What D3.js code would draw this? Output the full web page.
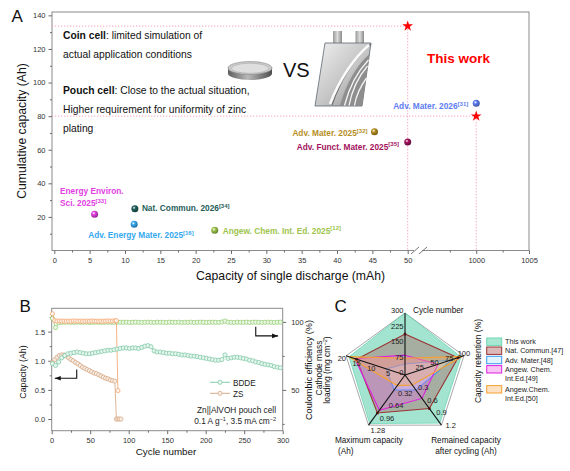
<!DOCTYPE html>
<html>
<head>
<meta charset="utf-8">
<script src="https://cdn.jsdelivr.net/npm/d3@7"></script>
<style>
  body { margin: 0; background: #fff; }
  svg { display: block; font-family: "Liberation Sans", Arial, sans-serif; }
</style>
</head>
<body>
<script>
// ---------------- data: panel A ----------------
const refNames = ['Energy Environ.|Sci. 2025', 'Nat. Commun. 2026', 'Adv. Energy Mater. 2025',
  'Angew. Chem. Int. Ed. 2025', 'Adv. Mater. 2025', 'Adv. Funct. Mater. 2025', 'Adv. Mater. 2026'];
const refTags = ['33', '34', '16', '12', '32', '35', '31'];
const refSingle = [5.7, 11.4, 11.3, 22.7, 45.3, 50, 1000];        // mAh
const refCumulative = [21.6, 24.8, 15.6, 12.0, 70.7, 64.6, 87.6];  // Ah
const workSingle = [50, 1000];
const workCumulative = [133.6, 80];
const xTicksA = [0, 5, 10, 15, 20, 25, 30, 35, 40, 45, 50, 1000, 1005];
const xMinorA = [2.5, 7.5, 12.5, 17.5, 22.5, 27.5, 32.5, 37.5, 42.5, 47.5, 997.5, 1002.5];
const yTicksA = [20, 40, 60, 80, 100, 120, 140];
const yMinorA = [10, 30, 50, 70, 90, 110, 130];

// ---------------- data: panel B ----------------
const bddeCycles = d3.range(1, 300, 4);
const bddeCapacity = [0.95, 0.92, 0.98, 1.05, 1.09, 1.12, 1.13, 1.14, 1.15, 1.14,
  1.13, 1.12, 1.12, 1.13, 1.14, 1.15, 1.16, 1.17, 1.18, 1.18,
  1.19, 1.20, 1.21, 1.22, 1.22, 1.21, 1.22, 1.22, 1.21, 1.23,
  1.25, 1.26, 1.24, 1.17, 1.15, 1.15, 1.14, 1.13, 1.13, 1.12,
  1.12, 1.11, 1.10, 1.10, 1.09, 1.08, 1.08, 1.07, 1.06, 1.05,
  1.04, 1.03, 1.02, 1.01, 1.01, 1.02, 1.10, 1.04, 1.05, 1.06,
  1.06, 1.05, 1.04, 1.03, 1.01, 1.00, 0.98, 0.97, 0.95, 0.94,
  0.93, 0.92, 0.90, 0.89, 0.88];
const bddeCE = [102.5, 95.8, 99.3, 99.6, 99.7, 99.8, 99.7, 99.6, 99.8, 99.7,
  99.7, 99.8, 99.6, 99.7, 99.8, 99.7, 99.6, 99.7, 99.8, 99.7,
  99.6, 99.8, 99.7, 99.7, 99.8, 99.6, 99.7, 99.8, 99.7, 99.6,
  99.7, 99.8, 99.7, 99.6, 99.8, 99.7, 99.7, 99.6, 99.8, 99.7,
  99.7, 99.8, 99.6, 99.7, 99.7, 99.8, 99.6, 99.7, 99.8, 99.7,
  99.6, 99.7, 99.8, 99.7, 99.6, 99.9, 100.6, 99.8, 99.7, 99.6,
  99.8, 99.7, 99.7, 99.8, 99.6, 99.7, 99.8, 99.7, 99.6, 99.7,
  99.8, 99.7, 99.6, 99.7, 99.8];
const zsCycles = [1, 4, 7, 10, 13, 16, 19, 22, 25, 28, 31, 34, 37, 40, 43, 46, 49, 52, 55, 58,
  61, 64, 67, 70, 73, 76, 79, 82, 84, 86, 88, 90];
const zsCapacity = [0.97, 1.02, 1.06, 1.09, 1.10, 1.10, 1.08, 1.05, 1.02, 1.00,
  0.97, 0.95, 0.92, 0.89, 0.87, 0.85, 0.83, 0.81, 0.79, 0.78,
  0.76, 0.74, 0.72, 0.70, 0.69, 0.67, 0.66, 0.65, 0.0, 0.0, 0.0, 0.0];
const zsCECycles = [1, 4, 7, 10, 13, 16, 19, 22, 25, 28, 31, 34, 37, 40, 43, 46, 49, 52, 55, 58,
  61, 64, 67, 70, 73, 76, 79, 82, 84, 86];
const zsCE = [106.0, 100.9, 100.6, 100.7, 100.5, 100.6, 100.4, 100.6, 100.5, 100.7,
  100.6, 100.5, 100.6, 100.4, 100.5, 100.6, 100.5, 100.7, 100.6, 100.5,
  100.4, 100.6, 100.5, 100.6, 100.7, 100.5, 100.6, 100.8, 100.9, 49.5];
const xTicksB = [0, 50, 100, 150, 200, 250, 300];
const yTicksB = [0, 0.5, 1.0, 1.5];
const y2TicksB = [50, 100];

// ---------------- data: panel C ----------------
const radarMax = [300, 100, 1.2, 1.28, 20];
const radarTicks = [[0, 75, 150, 225, 300], [25, 50, 75, 100], [0.3, 0.6, 0.9, 1.2],
  [0.32, 0.64, 0.96, 1.28], [5, 10, 15, 20]];
const radarNames = ['This work', 'Nat. Commun.[47]', 'Adv. Mater.[48]', 'Angew. Chem.|Int.Ed.[49]', 'Angew.Chem.|Int.Ed.[50]'];
const thisWorkRadar = [300, 95, 1.15, 1.24, 19];
const natCommunRadar = [198, 90, 0.80, 0.97, 16.4];
const advMaterRadar = [53, 79, 0.36, 0.38, 6.4];
const angew49Radar = [96, 56, 0.56, 0.90, 17];
const angew50Radar = [81, 97, 0.24, 0.27, 19.2];

// ---------------- styles ----------------
const refColors = ['#e23ee2', '#1f5e5a', '#35a9ef', '#9dc44c', '#b68f1f', '#a3115d', '#5d7df2'];
// label offset from its point: dx, dy, anchor
const refLabelPos = [[-34.6, -20.2, 'start'], [7, 2.5, 'start'], [-46, 13.7, 'start'], [8, 3.4, 'start'],
  [-7, 4.6, 'end'], [-8.7, 7.7, 'end'], [-8, 5.6, 'end']];
const radarStroke = ['#6fd6b6', '#9a3232', '#3a98ee', '#e020e0', '#f5a030'];
const radarFill = ['#45c9a0', '#b04a4a', '#c6ecfb', '#f060f0', '#f8b060'];
const radarOpacity = [0.5, 0.35, 0.55, 0.3, 0.35];
const legendFill = ['#a8e8d2', '#dcb8b8', '#e2f5fd', '#f8c4f4', '#fde2c4'];

const svg = d3.select('body').append('svg').attr('width', 570).attr('height', 471);
const defs = svg.append('defs');

function styleAxis(g, size) {
  g.attr('font-family', null).attr('font-size', size || 7.5);
  g.selectAll('.tick line').attr('stroke', '#6a6a6a');
  g.selectAll('.tick text').attr('fill', '#333');
  g.select('.domain').remove();
}

function panelLetter(txt, x, y) {
  svg.append('text').attr('x', x).attr('y', y).attr('font-size', 17).attr('fill', '#111').text(txt);
}

// ================= PANEL A =================
const gA = svg.append('g');
const xA = d3.scaleLinear().domain([0, 50, 996, 1005]).range([54.3, 407.7, 434, 529]);
const yA = d3.scaleLinear().domain([0, 142]).range([250.5, 12]);

gA.append('rect').attr('x', 52).attr('y', 12).attr('width', 477).attr('height', 238.5)
  .attr('fill', 'none').attr('stroke', '#8a8a8a').attr('stroke-width', 1);

const axA = gA.append('g').attr('transform', 'translate(0,250.5)')
  .call(d3.axisBottom(xA).tickValues(xTicksA).tickSize(3.5).tickPadding(4).tickFormat(d3.format('d')));
styleAxis(axA);
styleAxis(gA.append('g').attr('transform', 'translate(0,250.5)')
  .call(d3.axisBottom(xA).tickValues(xMinorA).tickSize(2).tickFormat('')));
styleAxis(gA.append('g').attr('transform', 'translate(52,0)')
  .call(d3.axisLeft(yA).tickValues(yTicksA).tickSize(3.5)));
styleAxis(gA.append('g').attr('transform', 'translate(52,0)')
  .call(d3.axisLeft(yA).tickValues(yMinorA).tickSize(2).tickFormat('')));

// axis break
gA.append('rect').attr('x', 414).attr('y', 248).attr('width', 8).attr('height', 5).attr('fill', '#fff');
[411, 419].forEach(bx => {
  gA.append('line').attr('x1', bx).attr('y1', 254).attr('x2', bx + 8).attr('y2', 247)
    .attr('stroke', '#6a6a6a').attr('stroke-width', 0.9);
});

// guide lines to "this work"
workSingle.forEach((s, i) => {
  const px = xA(s), py = yA(workCumulative[i]);
  gA.append('path').attr('d', `M52,${py}H${px}M${px},${py}V250.5`)
    .attr('fill', 'none').attr('stroke', '#f6a3c2').attr('stroke-width', 1)
    .attr('stroke-dasharray', '1.3,1.7');
});

// spheres
refColors.forEach((c, i) => {
  const gr = defs.append('radialGradient').attr('id', 'sph' + i)
    .attr('cx', '38%').attr('cy', '35%').attr('r', '65%');
  gr.append('stop').attr('offset', '0%').attr('stop-color', '#fff');
  gr.append('stop').attr('offset', '35%').attr('stop-color', c);
  gr.append('stop').attr('offset', '100%').attr('stop-color', d3.color(c).darker(1.2));
});

gA.selectAll('circle.ref').data(refSingle).enter().append('circle')
  .attr('class', 'ref')
  .attr('cx', d => xA(d)).attr('cy', (d, i) => yA(refCumulative[i]))
  .attr('r', 3.5).attr('fill', (d, i) => `url(#sph${i})`);

gA.selectAll('path.star').data(workSingle).enter().append('path')
  .attr('class', 'star')
  .attr('transform', (d, i) => `translate(${xA(d)},${yA(workCumulative[i])})`)
  .attr('d', d3.symbol(d3.symbolStar).size(36)).attr('fill', '#ff0000');

refNames.forEach((name, i) => {
  const [dx, dy, anchor] = refLabelPos[i];
  const lx = xA(refSingle[i]) + dx, ly = yA(refCumulative[i]) + dy;
  const lines = name.split('|');
  const t = gA.append('text').attr('x', lx).attr('y', ly).attr('text-anchor', anchor)
    .attr('font-size', 8.3).attr('font-weight', 'bold').attr('fill', refColors[i]);
  lines.forEach((ln, j) => t.append('tspan').attr('x', lx).attr('dy', j ? 12 : 0).text(ln));
  t.append('tspan').attr('dy', -3.3).attr('font-size', 6).text('[' + refTags[i] + ']');
});

gA.append('text').attr('x', 427).attr('y', 63).attr('font-size', 13.5).attr('font-weight', 'bold')
  .attr('fill', '#ff0000').text('This work');

// description text
const descA = [
  [['Coin cell', true], [': limited simulation of', false]],
  [['actual application conditions', false]],
  [['Pouch cell', true], [': Close to the actual situation,', false]],
  [['Higher requirement for uniformity of zinc', false]],
  [['plating', false]]
];
const descY = [39, 58, 94, 113, 132];
descA.forEach((parts, i) => {
  const t = gA.append('text').attr('x', 63).attr('y', descY[i]).attr('font-size', 10.3).attr('fill', '#111');
  parts.forEach(p => t.append('tspan').attr('font-weight', p[1] ? 'bold' : 'normal').text(p[0]));
});

// coin cell drawing
const coinGrad = defs.append('linearGradient').attr('id', 'coinRim').attr('x1', 0).attr('x2', 1);
coinGrad.append('stop').attr('offset', '0%').attr('stop-color', '#5e5e5e');
coinGrad.append('stop').attr('offset', '45%').attr('stop-color', '#b8b8b8');
coinGrad.append('stop').attr('offset', '100%').attr('stop-color', '#4e4e4e');
gA.append('ellipse').attr('cx', 250).attr('cy', 73.5).attr('rx', 22).attr('ry', 6.5).attr('fill', 'url(#coinRim)');
gA.append('rect').attr('x', 228).attr('y', 68).attr('width', 44).attr('height', 5.5).attr('fill', 'url(#coinRim)');
gA.append('ellipse').attr('cx', 250).attr('cy', 68).attr('rx', 22).attr('ry', 6.5)
  .attr('fill', '#c9c9c9').attr('stroke', '#8a8a8a').attr('stroke-width', 0.6);
gA.append('ellipse').attr('cx', 250).attr('cy', 68.3).attr('rx', 18.5).attr('ry', 5)
  .attr('fill', '#dedede').attr('stroke', '#a8a8a8').attr('stroke-width', 0.5);

gA.append('text').attr('x', 283).attr('y', 77).attr('font-size', 20).attr('fill', '#111').text('VS');

// pouch cell drawing
const pg = defs.append('linearGradient').attr('id', 'pouchGrad').attr('x1', 0).attr('y1', 0).attr('x2', 1).attr('y2', 1);
pg.append('stop').attr('offset', '0%').attr('stop-color', '#f0f0f0');
pg.append('stop').attr('offset', '55%').attr('stop-color', '#c4c4c4');
pg.append('stop').attr('offset', '100%').attr('stop-color', '#8a8a8a');
const tg = defs.append('linearGradient').attr('id', 'tabGrad').attr('x1', 0).attr('x2', 1);
tg.append('stop').attr('offset', '0%').attr('stop-color', '#9a9a9a');
tg.append('stop').attr('offset', '50%').attr('stop-color', '#dcdcdc');
tg.append('stop').attr('offset', '100%').attr('stop-color', '#8a8a8a');
gA.append('rect').attr('x', 333).attr('y', 31).attr('width', 9).attr('height', 13).attr('fill', 'url(#tabGrad)');
gA.append('rect').attr('x', 355.5).attr('y', 31).attr('width', 8.5).attr('height', 13).attr('fill', 'url(#tabGrad)');
gA.append('path').attr('d', 'M325,43L371,43L362,106L315,106Z')
  .attr('fill', 'url(#pouchGrad)').attr('stroke', '#5d6670').attr('stroke-width', 0.8);
gA.append('path').attr('d', 'M369.5,54C356,66 346,84 340,105.5L362,105.5Z').attr('fill', '#8e8e8e');
['M367.5,66C358,77 352,90 349,105.5', 'M366.5,78C360,87 356,96 354.5,105.5', 'M368.5,60C357,72 349,88 344.5,105.5']
  .forEach(d => gA.append('path').attr('d', d).attr('fill', 'none').attr('stroke', '#f4f4f4').attr('stroke-width', 1.3));
gA.append('path').attr('d', 'M371,44C356,56 341,78 332,105').attr('fill', 'none')
  .attr('stroke', '#6c6c6c').attr('stroke-width', 1.2);
gA.append('path').attr('d', 'M369,45C355,57 340,78 330,104').attr('fill', 'none')
  .attr('stroke', '#fafafa').attr('stroke-width', 2.6);

// axis titles
gA.append('text').attr('transform', 'translate(25.5,131) rotate(-90)').attr('text-anchor', 'middle')
  .attr('font-size', 12.2).attr('fill', '#111').text('Cumulative capacity (Ah)');
gA.append('text').attr('x', 290.5).attr('y', 279.5).attr('text-anchor', 'middle')
  .attr('font-size', 12.2).attr('fill', '#111').text('Capacity of single discharge (mAh)');
panelLetter('A', 11.5, 22);

// ================= PANEL B =================
const gB = svg.append('g');
const xB = d3.scaleLinear().domain([0, 300]).range([51.7, 282.7]);
const yB = d3.scaleLinear().domain([-0.2, 1.9]).range([430.7, 308.3]);
const yB2 = d3.scaleLinear().domain([20, 110]).range([430.7, 308.3]);

gB.append('rect').attr('x', 51.7).attr('y', 308.3).attr('width', 231).attr('height', 122.4)
  .attr('fill', 'none').attr('stroke', '#8a8a8a').attr('stroke-width', 1);
styleAxis(gB.append('g').attr('transform', 'translate(0,430.7)')
  .call(d3.axisBottom(xB).tickValues(xTicksB).tickSize(3.5).tickPadding(3)));
styleAxis(gB.append('g').attr('transform', 'translate(0,430.7)')
  .call(d3.axisBottom(xB).tickValues([25, 75, 125, 175, 225, 275]).tickSize(2).tickFormat('')));
styleAxis(gB.append('g').attr('transform', 'translate(51.7,0)')
  .call(d3.axisLeft(yB).tickValues(yTicksB).tickSize(3.5).tickFormat(d3.format('.1f'))));
styleAxis(gB.append('g').attr('transform', 'translate(51.7,0)')
  .call(d3.axisLeft(yB).tickValues([0.25, 0.75, 1.25, 1.75]).tickSize(2).tickFormat('')));
styleAxis(gB.append('g').attr('transform', 'translate(282.7,0)')
  .call(d3.axisRight(yB2).tickValues(y2TicksB).tickSize(3.5).tickPadding(5)));
styleAxis(gB.append('g').attr('transform', 'translate(282.7,0)')
  .call(d3.axisRight(yB2).tickValues([25, 75]).tickSize(2).tickFormat('')));

function drawSeries(cycles, vals, yScale, stroke, fill) {
  const pts = cycles.map((c, i) => [xB(c), yScale(vals[i])]);
  gB.append('path').attr('d', d3.line()(pts)).attr('fill', 'none')
    .attr('stroke', stroke).attr('stroke-width', 0.8);
  gB.append('g').selectAll('circle').data(pts).enter().append('circle')
    .attr('cx', d => d[0]).attr('cy', d => d[1]).attr('r', 2.1)
    .attr('fill', fill).attr('stroke', stroke).attr('stroke-width', 0.7);
}
drawSeries(bddeCycles, bddeCE, yB2, '#8dca6a', '#eef8e8');
drawSeries(zsCECycles, zsCE, yB2, '#f3a068', '#fdf1e7');
drawSeries(zsCycles, zsCapacity, yB, '#d3a27c', '#f8eee6');
drawSeries(bddeCycles, bddeCapacity, yB, '#77c4a1', '#e6f6ee');

// direction arrows
function arrow(pts, dir) {
  const p = pts.map(d => [xB(d[0]), d[2] ? yB2(d[1]) : yB(d[1])]);
  gB.append('path').attr('d', d3.line()(p)).attr('fill', 'none').attr('stroke', '#111').attr('stroke-width', 1.1);
  const e = p[p.length - 1];
  gB.append('path').attr('d', `M${e[0]},${e[1]}l${-6 * dir},-2.3v4.6Z`).attr('fill', '#111');
}
arrow([[32.5, 0.85], [32.5, 0.70], [4, 0.70]], -1);
arrow([[265, 96.5, 1], [265, 89.7, 1], [294, 89.7, 1]], 1);

// legend
[['BDDE', '#77c4a1', '#e6f6ee', 382.3], ['ZS', '#d3a27c', '#f8eee6', 393.3]].forEach(d => {
  gB.append('line').attr('x1', 210).attr('x2', 230).attr('y1', d[3]).attr('y2', d[3])
    .attr('stroke', d[1]).attr('stroke-width', 0.9);
  gB.append('circle').attr('cx', 220).attr('cy', d[3]).attr('r', 2.1)
    .attr('fill', d[2]).attr('stroke', d[1]).attr('stroke-width', 0.7);
  gB.append('text').attr('x', 233).attr('y', d[3] + 3.2).attr('font-size', 8.2).attr('fill', '#222').text(d[0]);
});
gB.append('text').attr('x', 276).attr('y', 413).attr('text-anchor', 'end').attr('font-size', 8.3)
  .attr('fill', '#222').text('Zn||AlVOH pouch cell');
const cond = gB.append('text').attr('x', 276).attr('y', 424).attr('text-anchor', 'end')
  .attr('font-size', 8.3).attr('fill', '#222');
cond.append('tspan').text('0.1 A g');
cond.append('tspan').attr('dy', -3).attr('font-size', 5.5).text('−1');
cond.append('tspan').attr('dy', 3).text(', 3.5 mA cm');
cond.append('tspan').attr('dy', -3).attr('font-size', 5.5).text('−2');

gB.append('text').attr('transform', 'translate(25.5,372) rotate(-90)').attr('text-anchor', 'middle')
  .attr('font-size', 8.8).attr('fill', '#111').text('Capacity (Ah)');
gB.append('text').attr('x', 166).attr('y', 455).attr('text-anchor', 'middle')
  .attr('font-size', 9.8).attr('fill', '#111').text('Cycle number');
gB.append('text').attr('transform', 'translate(311.5,370) rotate(-90)').attr('text-anchor', 'middle')
  .attr('font-size', 9.1).attr('fill', '#111').text('Coulombic efficiency (%)');
panelLetter('B', 19.5, 312);

// ================= PANEL C =================
const gC = svg.append('g');
const cx = 405, cy = 375, R = 62;
const ang = i => (-90 + 72 * i) * Math.PI / 180;
const rScales = radarMax.map(m => d3.scaleLinear().domain([0, m]).range([0, R]));
const pt = (i, v) => [cx + rScales[i](v) * Math.cos(ang(i)), cy + rScales[i](v) * Math.sin(ang(i))];
const closed = d3.line().curve(d3.curveLinearClosed);

gC.append('path').attr('d', closed(radarMax.map((m, i) => pt(i, m))))
  .attr('fill', 'none').attr('stroke', '#a9a9a9').attr('stroke-width', 1);

const radarSeries = [thisWorkRadar, natCommunRadar, advMaterRadar, angew49Radar, angew50Radar];
radarSeries.forEach((vals, k) => {
  gC.append('path').attr('d', closed(vals.map((v, i) => pt(i, v))))
    .attr('fill', radarFill[k]).attr('fill-opacity', radarOpacity[k])
    .attr('stroke', radarStroke[k]).attr('stroke-width', k === 0 ? 0.8 : 1.1);
});
gC.selectAll('circle.nc').data(natCommunRadar).enter().append('circle')
  .attr('cx', (v, i) => pt(i, v)[0]).attr('cy', (v, i) => pt(i, v)[1])
  .attr('r', 1.5).attr('fill', '#8a2020');

radarMax.forEach((m, i) => {
  const e = pt(i, m);
  gC.append('line').attr('x1', cx).attr('y1', cy).attr('x2', e[0]).attr('y2', e[1])
    .attr('stroke', '#111').attr('stroke-width', 1.1);
});

// tick label placement per axis: anchor, dx, dy
const tickPlace = [['end', -1.5, 0], ['middle', 0, 0], ['start', 4, 2.7], ['start', 2, 8], ['end', 0, 5.5]];
radarTicks.forEach((ticks, i) => {
  const [anchor, dx, dy] = tickPlace[i];
  ticks.forEach(v => {
    const p = pt(i, v);
    gC.append('text').attr('x', p[0] + dx).attr('y', p[1] + dy).attr('text-anchor', anchor)
      .attr('font-size', 7.5).attr('fill', '#222').text(String(v));
  });
});

gC.append('text').attr('x', 413).attr('y', 312.5).attr('font-size', 8.2).attr('fill', '#111').text('Cycle number');
gC.append('text').attr('transform', 'translate(480.5,361) rotate(-90)').attr('text-anchor', 'middle')
  .attr('font-size', 8.5).attr('fill', '#111').text('Capacity retention (%)');
gC.append('text').attr('x', 335).attr('y', 442.5).attr('font-size', 8.2).attr('fill', '#111').text('Maximum capacity');
gC.append('text').attr('x', 338).attr('y', 453.5).attr('font-size', 8.2).attr('fill', '#111').text('(Ah)');
gC.append('text').attr('x', 466).attr('y', 442.5).attr('text-anchor', 'middle').attr('font-size', 8.2)
  .attr('fill', '#111').text('Remained capacity');
gC.append('text').attr('x', 466).attr('y', 453.5).attr('text-anchor', 'middle').attr('font-size', 8.2)
  .attr('fill', '#111').text('after cycling (Ah)');
gC.append('text').attr('transform', 'translate(321.5,368) rotate(-90)').attr('text-anchor', 'middle')
  .attr('font-size', 8.5).attr('fill', '#111').text('Cathode mass');
const ld = gC.append('text').attr('transform', 'translate(330,370) rotate(-90)').attr('text-anchor', 'middle')
  .attr('font-size', 8.5).attr('fill', '#111');
ld.append('tspan').text('loading (mg cm');
ld.append('tspan').attr('dy', -3).attr('font-size', 5.6).text('−2');
ld.append('tspan').attr('dy', 3).text(')');

// legend
const legY = [341.7, 350.7, 360, 369.3, 389.3];
radarNames.forEach((name, k) => {
  gC.append('rect').attr('x', 486.7).attr('y', legY[k] - 3.7).attr('width', 15).attr('height', 7.4)
    .attr('fill', legendFill[k]).attr('stroke', radarStroke[k]).attr('stroke-width', 1);
  name.split('|').forEach((ln, j) => {
    gC.append('text').attr('x', 505).attr('y', legY[k] + 2.6 + j * 9.5).attr('font-size', 7.2)
      .attr('fill', '#222').text(ln);
  });
});
panelLetter('C', 334.5, 312);
</script>
</body>
</html>
